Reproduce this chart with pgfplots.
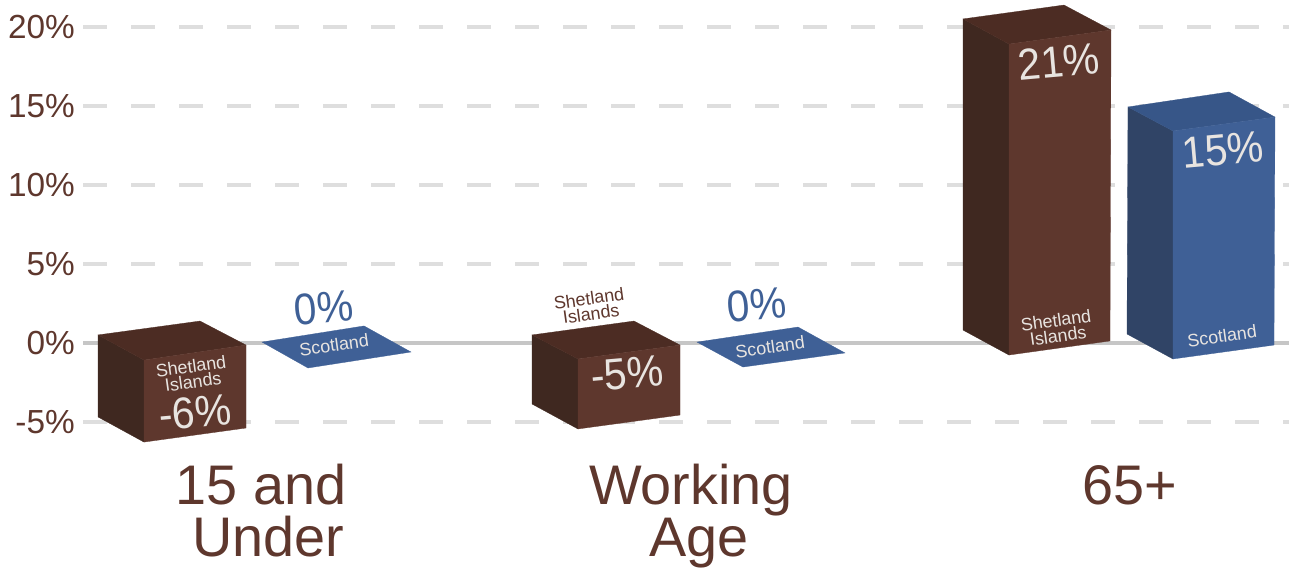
\documentclass[border=0pt]{standalone}
\usepackage{pgfplots}
\pgfplotsset{compat=1.18}
\usepackage{fontspec}
\setmainfont{Liberation Sans}
\definecolor{brF}{HTML}{5E372D}
\definecolor{brL}{HTML}{3F2820}
\definecolor{brT}{HTML}{4C2C23}
\definecolor{blF}{HTML}{3F6096}
\definecolor{blL}{HTML}{304466}
\definecolor{blT}{HTML}{375688}
\definecolor{txt}{HTML}{E8E4E0}
\definecolor{tick}{HTML}{5E372D}
\definecolor{valblue}{HTML}{3F6096}
\definecolor{gridc}{HTML}{DEDEDE}
\definecolor{zeroc}{HTML}{C6C6C6}
\tikzset{
  grd/.style={draw=gridc,line width=4bp,dash pattern=on 24bp off 24bp},
  val/.style={font=\fontsize{41}{41}\selectfont,inner sep=0pt,rotate=5,yscale=1.08,color=txt},
  sm/.style={font=\fontsize{18}{15.5}\selectfont,inner sep=0pt,rotate=8,align=center,color=txt},
  big/.style={font=\fontsize{56}{56}\selectfont,inner sep=0pt,anchor=base,color=tick},
}
\begin{document}
\begin{tikzpicture}
\path[use as bounding box] (0,0) rectangle (1289bp,568bp);
\begin{axis}[
  scale only axis,width=1289bp,height=568bp,
  xmin=0,xmax=1289,ymin=-14.24,ymax=21.71,
  clip=false,
  axis line style={draw=none},
  xtick=\empty,
  ytick={-5,0,5,10,15,20},
  yticklabels={-5\%,0\%,5\%,10\%,15\%,20\%},
  major tick length=0pt,
  yticklabel style={anchor=east,xshift=75bp,inner sep=0pt,color=tick,font=\fontsize{33.5}{33.5}\selectfont},
]
% grid
\addplot[grd] coordinates {(83,20)(1289,20)};
\addplot[grd] coordinates {(83,15)(1289,15)};
\addplot[grd] coordinates {(83,10)(1289,10)};
\addplot[grd] coordinates {(83,5)(1289,5)};
\addplot[grd] coordinates {(83,-5)(1289,-5)};
\addplot[draw=zeroc,line width=4bp] coordinates {(83,0)(1289,0)};
% 15 and under, Shetland
\addplot[fill=brL,draw=brL,line width=.3pt] coordinates {(98,0.51)(144,-1.08)(144,-6.27)(98,-4.68)} -- cycle;
\addplot[fill=brT,draw=brT,line width=.3pt] coordinates {(98,0.51)(200,1.39)(246,-0.13)(144,-1.08)} -- cycle;
\addplot[fill=brF,draw=brF,line width=.3pt] coordinates {(144,-1.08)(246,-0.13)(246,-5.38)(144,-6.27)} -- cycle;
% 15 and under, Scotland
\addplot[fill=blF,draw=blF,line width=.3pt] coordinates {(262,0.06)(364,1.08)(411,-0.57)(308,-1.58)} -- cycle;
% Working age, Shetland
\addplot[fill=brL,draw=brL,line width=.3pt] coordinates {(532,0.51)(578,-1.01)(578,-5.44)(532,-3.86)} -- cycle;
\addplot[fill=brT,draw=brT,line width=.3pt] coordinates {(532,0.51)(634,1.39)(680,-0.13)(578,-1.01)} -- cycle;
\addplot[fill=brF,draw=brF,line width=.3pt] coordinates {(578,-1.01)(680,-0.13)(680,-4.56)(578,-5.44)} -- cycle;
% Working age, Scotland
\addplot[fill=blF,draw=blF,line width=.3pt] coordinates {(697,0.06)(798,1.01)(845,-0.63)(743,-1.52)} -- cycle;
% 65+, Shetland
\addplot[fill=brL,draw=brL,line width=.3pt] coordinates {(963,20.51)(1009,18.92)(1009,-0.76)(963,0.82)} -- cycle;
\addplot[fill=brT,draw=brT,line width=.3pt] coordinates {(963,20.51)(1064,21.39)(1111,19.81)(1009,18.92)} -- cycle;
\addplot[fill=brF,draw=brF,line width=.3pt] coordinates {(1009,18.92)(1111,19.81)(1110,0.13)(1009,-0.76)} -- cycle;
% 65+, Scotland
\addplot[fill=blL,draw=blL,line width=.3pt] coordinates {(1128,14.94)(1173,13.42)(1173,-1.01)(1127,0.57)} -- cycle;
\addplot[fill=blT,draw=blT,line width=.3pt] coordinates {(1128,14.94)(1229,15.89)(1275,14.30)(1173,13.42)} -- cycle;
\addplot[fill=blF,draw=blF,line width=.3pt] coordinates {(1173,13.42)(1275,14.30)(1274,-0.13)(1173,-1.01)} -- cycle;
% value labels
\node[val] at (axis cs:195,-4.37) {-6\%};
\node[sm] at (axis cs:192,-1.96) {Shetland\\Islands};
\node[val,color=valblue] at (axis cs:324,2.22) {0\%};
\node[sm] at (axis cs:334,-0.13) {Scotland};
\node[sm,color=tick] at (axis cs:590,2.34) {Shetland\\Islands};
\node[val] at (axis cs:627,-1.90) {-5\%};
\node[val,color=valblue] at (axis cs:757,2.41) {0\%};
\node[sm] at (axis cs:770,-0.25) {Scotland};
\node[val] at (axis cs:1059,17.78) {21\%};
\node[sm] at (axis cs:1057,0.95) {Shetland\\Islands};
\node[val] at (axis cs:1223,12.22) {15\%};
\node[sm] at (axis cs:1222,0.44) {Scotland};
% categories
\node[big] at (axis cs:261,-10.25) {15 and};
\node[big] at (axis cs:268,-13.54) {Under};
\node[big] at (axis cs:691,-10.25) {Working};
\node[big] at (axis cs:699,-13.54) {Age};
\node[big] at (axis cs:1130,-10.25) {65+};
\end{axis}
\end{tikzpicture}
\end{document}
